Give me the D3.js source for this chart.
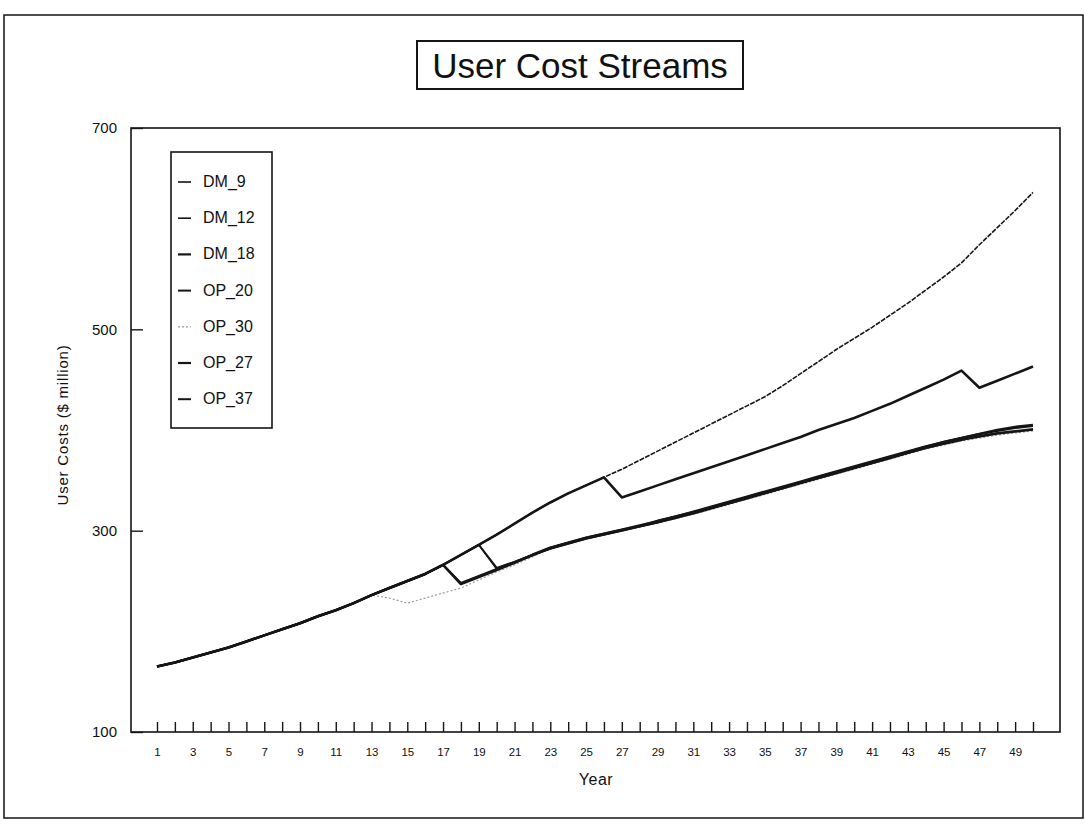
<!DOCTYPE html>
<html>
<head>
<meta charset="utf-8">
<script src="https://cdn.jsdelivr.net/npm/d3@7"></script>
<style>
body { margin: 0; background: #fff; }
text { font-family: "Liberation Sans", Arial, Helvetica, sans-serif; fill: #111; }
</style>
</head>
<body>
<div id="chart_div"></div>
<script>
// categories
var years = [1,2,3,4,5,6,7,8,9,10,11,12,13,14,15,16,17,18,19,20,21,22,23,24,25,
	     26,27,28,29,30,31,32,33,34,35,36,37,38,39,40,41,42,43,44,45,46,47,48,49,50];
var tick_labels = [1,3,5,7,9,11,13,15,17,19,21,23,25,27,29,31,33,35,37,39,41,43,45,47,49];
var y_ticks = [100,300,500,700];

// user costs ($ million)
var dm_9  = [165,169,174,179,184,190,196,202,208,215,221,228,236,243,250,257,266,276,286,296,307,318,328,337,345,
	     353,361,370,379,388,397,406,415,424,433,444,456,468,480,491,502,514,526,539,552,566,584,601,618,636];
var dm_12 = [165,169,174,179,184,190,196,202,208,215,221,228,236,243,250,257,266,276,286,262,268,275,282,287,292,
	     296,300,304,308,312,317,322,327,332,337,342,347,352,357,362,367,372,377,382,386,390,393,396,398,400];
var dm_18 = [165,169,174,179,184,190,196,202,208,215,221,228,236,243,250,257,266,247,254,261,268,276,283,288,293,
	     297,301,305,309,314,318,323,328,333,338,343,348,353,358,363,368,373,378,383,388,392,396,400,403,405];
var op_20 = [165,169,174,179,184,190,196,202,208,215,221,228,236,243,250,257,266,248,255,262,269,276,283,288,293,
	     297,301,305,310,314,319,324,329,334,339,344,349,354,359,364,369,374,379,384,388,392,396,399,402,404];
var op_30 = [165,169,174,179,184,190,196,202,208,215,221,228,236,233,228,233,238,243,251,259,266,274,283,289,293,
	     296,300,304,308,312,316,321,326,331,336,341,346,351,356,361,366,371,376,381,385,389,392,395,397,399];
var op_27 = [165,169,174,179,184,190,196,202,208,215,221,228,236,243,250,257,266,276,286,296,307,318,328,337,345,
	     353,333,339,345,351,357,363,369,375,381,387,393,400,406,412,419,426,434,442,450,459,442,449,456,463];
var op_37 = [165,169,174,179,184,190,196,202,208,215,221,228,236,243,250,257,266,276,286,263,269,276,282,287,292,
	     296,300,304,308,313,317,322,327,332,337,342,347,352,357,362,367,372,377,382,386,390,394,397,399,401];

var series_names = ["DM_9","DM_12","DM_18","OP_20","OP_30","OP_27","OP_37"];
var series_values = [dm_9, dm_12, dm_18, op_20, op_30, op_27, op_37];

var width = 1085, height = 824;
var ink = "#151515";

var styles = {
    DM_9:  {color: ink,    width: 1.6, dash: "5,1.2"},
    DM_12: {color: ink,    width: 1.6, dash: null},
    DM_18: {color: ink,    width: 2.6, dash: null},
    OP_20: {color: ink,    width: 2.0, dash: null},
    OP_30: {color: "#9a9a9a", width: 1.2, dash: "2,2"},
    OP_27: {color: ink,    width: 2.6, dash: null},
    OP_37: {color: ink,    width: 2.0, dash: null}
};

var plot = {left: 131, right: 1060, top: 128, bottom: 732};

var svg = d3.select("#chart_div")
    .append("svg")
    .attr("width", width)
    .attr("height", height);

// page frame
svg.append("rect")
    .attr("x", 4).attr("y", 15)
    .attr("width", 1079).attr("height", 803)
    .attr("fill", "none")
    .attr("stroke", ink)
    .attr("stroke-width", 1.5);

// title in its box
svg.append("rect")
    .attr("x", 417).attr("y", 41)
    .attr("width", 326).attr("height", 48)
    .attr("fill", "#fff")
    .attr("stroke", ink)
    .attr("stroke-width", 2);

svg.append("text")
    .attr("x", 580).attr("y", 78)
    .attr("text-anchor", "middle")
    .attr("font-size", 35)
    .text("User Cost Streams");

var x = d3.scaleLinear()
    .domain([1, 50])
    .range([157, 1033]);

var y = d3.scaleLinear()
    .domain([100, 700])
    .range([plot.bottom, plot.top]);

// plot box
svg.append("rect")
    .attr("x", plot.left).attr("y", plot.top)
    .attr("width", plot.right - plot.left)
    .attr("height", plot.bottom - plot.top)
    .attr("fill", "none")
    .attr("stroke", ink)
    .attr("stroke-width", 1.6);

// x axis, ticks pointing up into the plot
var x_axis = svg.append("g")
    .attr("transform", "translate(0," + plot.bottom + ")")
    .call(d3.axisBottom(x)
	  .tickValues(years)
	  .tickSize(-10)
	  .tickPadding(16)
	  .tickFormat(d => tick_labels.indexOf(d) >= 0 ? d : ""));
x_axis.select(".domain").remove();
x_axis.selectAll("line").attr("stroke", ink).attr("stroke-width", 1.4);
x_axis.selectAll("text")
    .attr("font-size", 11.5)
    .attr("font-family", "'Liberation Sans Narrow', 'Liberation Sans', Arial, sans-serif")
    .attr("fill", ink);

// y axis, ticks pointing right
var y_axis = svg.append("g")
    .attr("transform", "translate(" + plot.left + ",0)")
    .call(d3.axisLeft(y)
	  .tickValues(y_ticks)
	  .tickSize(-12)
	  .tickPadding(14));
y_axis.select(".domain").remove();
y_axis.selectAll("line").attr("stroke", ink).attr("stroke-width", 1.4);
y_axis.selectAll("text")
    .attr("font-size", 15)
    .attr("font-family", "'Liberation Sans', Arial, sans-serif")
    .attr("fill", ink);

svg.append("text")
    .attr("transform", "translate(68,425) rotate(-90)")
    .attr("text-anchor", "middle")
    .attr("font-size", 15)
    .attr("letter-spacing", 0.8)
    .text("User Costs ($ million)");

svg.append("text")
    .attr("x", 596).attr("y", 785)
    .attr("text-anchor", "middle")
    .attr("font-size", 16)
    .attr("letter-spacing", 0.5)
    .text("Year");

// lines: the light one first so the dark band sits over it
var line = d3.line()
    .x((d, i) => x(years[i]))
    .y(d => y(d));

var draw_order = [4, 0, 1, 3, 6, 2, 5];

svg.append("g")
    .selectAll("path")
    .data(draw_order)
    .enter()
    .append("path")
    .attr("d", k => line(series_values[k]))
    .attr("fill", "none")
    .attr("stroke", k => styles[series_names[k]].color)
    .attr("stroke-width", k => styles[series_names[k]].width)
    .attr("stroke-dasharray", k => styles[series_names[k]].dash)
    .attr("stroke-linejoin", "round");

// legend
var legend = svg.append("g");

legend.append("rect")
    .attr("x", 171).attr("y", 152)
    .attr("width", 101).attr("height", 276)
    .attr("fill", "#fff")
    .attr("stroke", ink)
    .attr("stroke-width", 1.6);

var items = legend.selectAll(".item")
    .data(series_names)
    .enter()
    .append("g")
    .attr("class", "item")
    .attr("transform", (d, i) => "translate(178," + (181 + i * 36.2) + ")");

items.append("line")
    .attr("x1", 0).attr("x2", 13)
    .attr("y1", 1).attr("y2", 1)
    .attr("stroke", d => styles[d].color)
    .attr("stroke-width", d => Math.min(styles[d].width, 2.2))
    .attr("stroke-dasharray", d => d == "OP_30" ? "2,2" : null);

items.append("text")
    .attr("x", 25)
    .attr("y", 6)
    .attr("font-size", 16)
    .text(d => d);
</script>
</body>
</html>
